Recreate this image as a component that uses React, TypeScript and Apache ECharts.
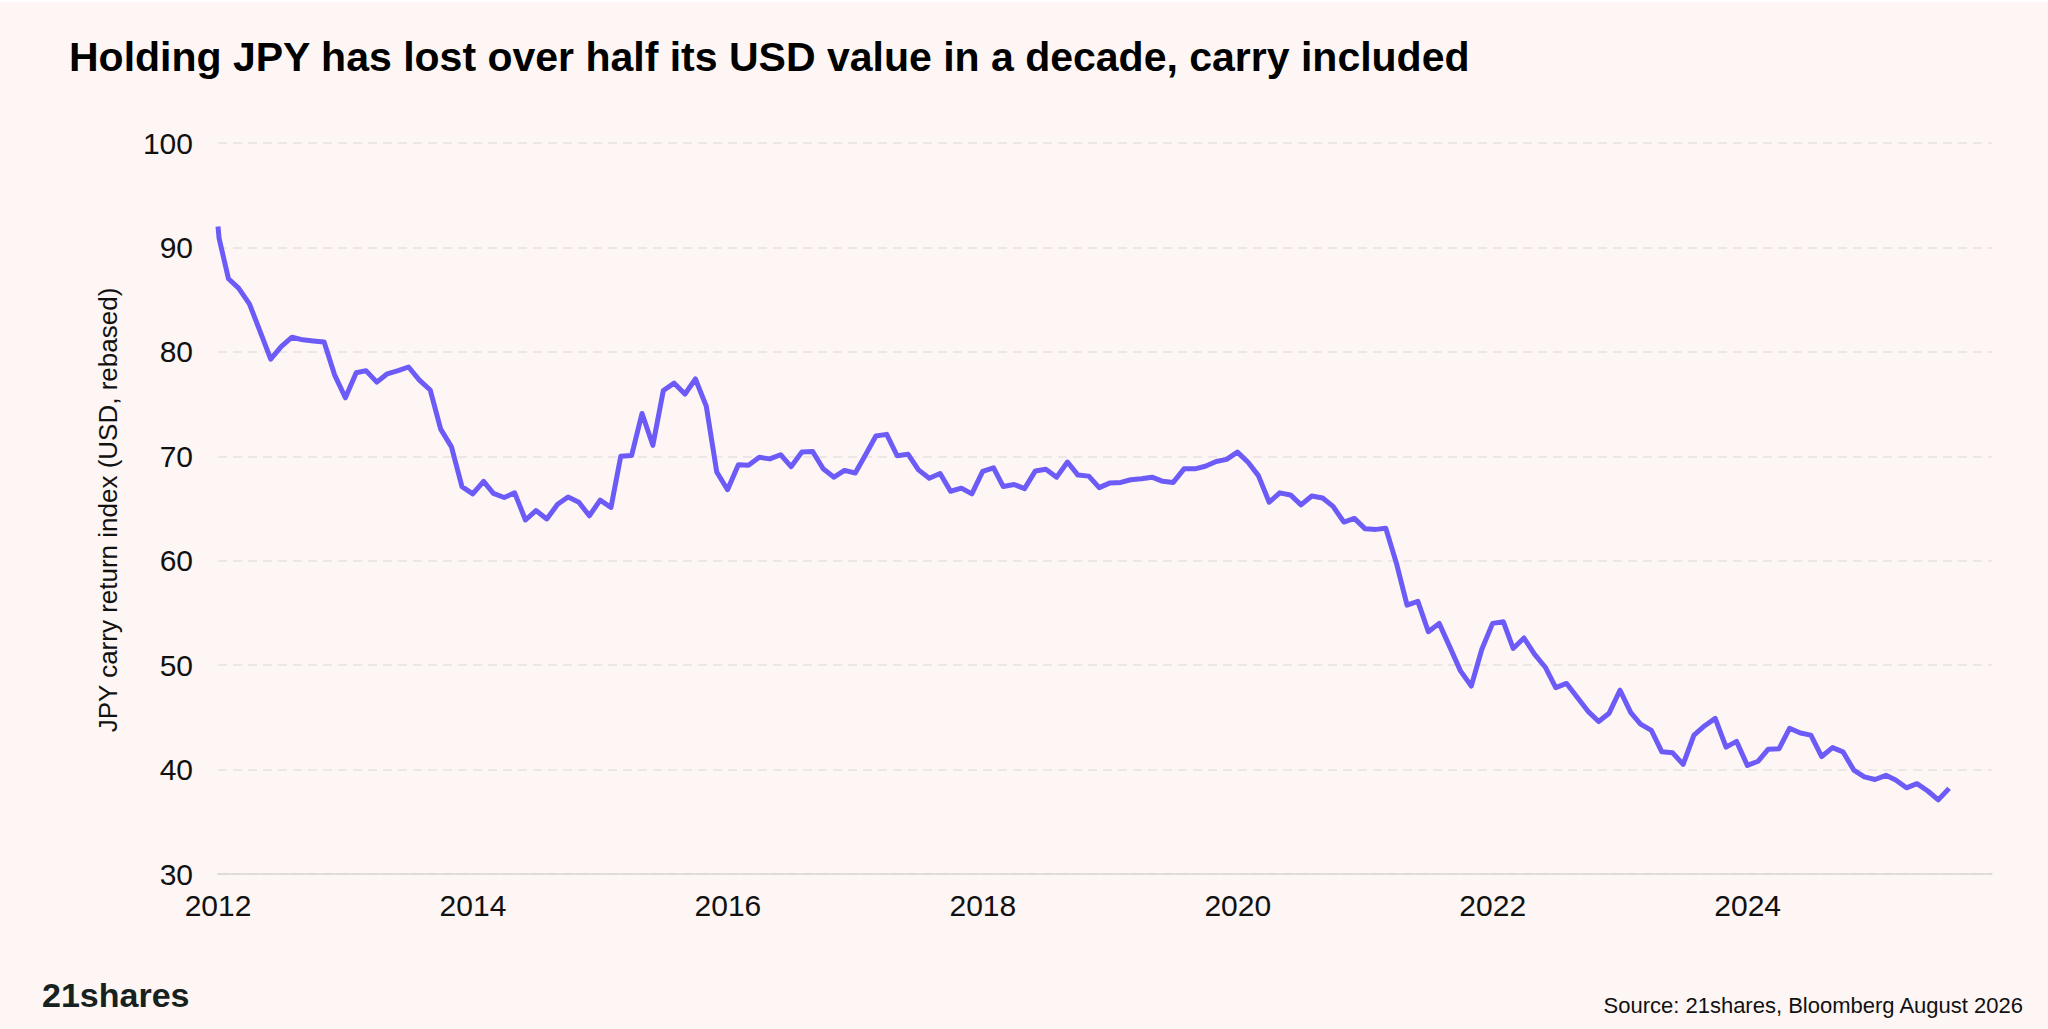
import { useEffect, useRef } from 'react';
import * as echarts from 'echarts';

const FONT = '"Liberation Sans", Arial, Helvetica, sans-serif';

// the index opens with two prints in the first days of January 2012
const startDates = ['2012-01-01', '2012-01-04'];
const startValues = [92.0, 90.9];

// month-end values, Jan 2012 .. Jul 2025
const firstMonth = { year: 2012, month: 0 };
const monthlyValues = [
  // 2012
  87.0, 86.1, 84.6, 82.0, 79.3, 80.5, 81.4, 81.15, 81.05, 80.95, 77.8, 75.6,
  // 2013
  78.0, 78.2, 77.1, 77.9, 78.2, 78.55, 77.3, 76.35, 72.6, 70.9, 67.1, 66.4,
  // 2014
  67.6, 66.45, 66.05, 66.5, 63.9, 64.8, 64.0, 65.4, 66.1, 65.6, 64.3, 65.8,
  // 2015
  65.1, 70.0, 70.07, 74.1, 71.05, 76.3, 77.0, 75.96, 77.4, 74.8, 68.5, 66.8,
  // 2016
  69.2, 69.15, 69.9, 69.75, 70.15, 69.0, 70.4, 70.45, 68.8, 68.0, 68.65, 68.4,
  // 2017
  70.25, 71.95, 72.1, 70.05, 70.2, 68.7, 67.9, 68.35, 66.65, 66.95, 66.4, 68.55,
  // 2018
  68.9, 67.1, 67.3, 66.9, 68.6, 68.75, 68.0, 69.45, 68.2, 68.1, 67.0, 67.45,
  // 2019
  67.5, 67.75, 67.85, 68.0, 67.6, 67.5, 68.8, 68.8, 69.05, 69.5, 69.7, 70.4,
  // 2020
  69.4, 68.15, 65.6, 66.5, 66.3, 65.35, 66.2, 66.0, 65.2, 63.7, 64.05, 63.05,
  // 2021
  63.0, 63.1, 59.7, 55.75, 56.1, 53.2, 54.0, 51.7, 49.45, 48.0, 51.5, 54.0,
  // 2022
  54.15, 51.6, 52.6, 51.05, 49.8, 47.85, 48.25, 46.9, 45.6, 44.6, 45.4, 47.6,
  // 2023
  45.45, 44.35, 43.75, 41.7, 41.6, 40.5, 43.3, 44.2, 44.9, 42.15, 42.7, 40.4,
  // 2024
  40.8, 41.95, 42.0, 43.95, 43.5, 43.3, 41.25, 42.1, 41.7, 39.95, 39.3, 39.05,
  // 2025
  39.45, 39.0, 38.25, 38.65, 37.95, 37.1, 38.2,
];

const xTickYears = [2012, 2014, 2016, 2018, 2020, 2022, 2024];
const xStart = '2012-01-01';
const xEnd = '2025-12-01';
const yTicks = [30, 40, 50, 60, 70, 80, 90, 100];

const DAY = 86400000;
const toTs = (s: string) => {
  const [y, m, d] = s.split('-').map(Number);
  return Date.UTC(y, m - 1, d);
};

function buildSeries(): [number, number][] {
  const pts: [number, number][] = startDates.map((d, i) => [toTs(d), startValues[i]]);
  monthlyValues.forEach((v, i) => {
    const m = firstMonth.month + i;
    // day 0 of next month = last day of this month
    pts.push([Date.UTC(firstMonth.year, m + 1, 0), v]);
  });
  return pts;
}

export default function App() {
  const chartRef = useRef<HTMLDivElement>(null);

  useEffect(() => {
    document.body.style.margin = '0';
    document.body.style.overflow = 'hidden';
    if (!chartRef.current) return;
    const chart = echarts.init(chartRef.current, undefined, { renderer: 'svg' });

    const yearSpan = 2 * 365.25 * DAY;

    chart.setOption({
      animation: false,
      backgroundColor: '#fdf6f4',
      textStyle: { fontFamily: FONT },
      grid: { left: 218, right: 56, top: 143, bottom: 155, containLabel: false },
      xAxis: {
        type: 'value',
        min: toTs(xStart),
        max: toTs(xEnd),
        interval: yearSpan,
        axisLine: { show: true, lineStyle: { color: '#d9d6d5', width: 1.5 } },
        axisTick: { show: false },
        splitLine: { show: false },
        axisLabel: {
          showMaxLabel: false,
          color: '#111111',
          fontSize: 30,
          fontFamily: FONT,
          margin: 16,
          formatter: (v: number) => {
            const y = new Date(v + 2 * DAY).getUTCFullYear();
            return xTickYears.includes(y) ? String(y) : '';
          },
        },
      },
      yAxis: {
        type: 'value',
        min: yTicks[0],
        max: yTicks[yTicks.length - 1],
        interval: yTicks[1] - yTicks[0],
        axisLine: { show: false },
        axisTick: { show: false },
        axisLabel: { color: '#111111', fontSize: 30, fontFamily: FONT, margin: 25 },
        splitLine: { lineStyle: { color: '#e6e1df', width: 1.5, type: [9, 6] } },
      },
      series: [
        {
          type: 'line',
          data: buildSeries(),
          showSymbol: false,
          lineStyle: { color: '#6d5bf7', width: 5, join: 'round' },
          itemStyle: { color: '#6d5bf7' },
        },
      ],
      graphic: [
        { type: 'rect', left: 0, top: 0, shape: { width: 2048, height: 2 }, style: { fill: '#ffffff' } },
        {
          type: 'text',
          x: 69,
          y: 57,
          style: {
            text: 'Holding JPY has lost over half its USD value in a decade, carry included',
            fontFamily: FONT,
            fontSize: 41,
            fontWeight: 'bold',
            fill: '#000000',
            align: 'left',
            verticalAlign: 'middle',
          },
        },
        {
          type: 'text',
          x: 108,
          y: 510,
          rotation: Math.PI / 2,
          style: {
            text: 'JPY carry return index (USD, rebased)',
            fontFamily: FONT,
            fontSize: 26,
            fill: '#111111',
            align: 'center',
            verticalAlign: 'middle',
          },
        },
        {
          type: 'text',
          x: 42,
          y: 995,
          style: {
            text: '21shares',
            fontFamily: FONT,
            fontSize: 34,
            fontWeight: 'bold',
            fill: '#17211d',
            align: 'left',
            verticalAlign: 'middle',
          },
        },
        {
          type: 'text',
          x: 2023,
          y: 1005,
          style: {
            text: 'Source: 21shares, Bloomberg August 2026',
            fontFamily: FONT,
            fontSize: 22,
            fill: '#111111',
            align: 'right',
            verticalAlign: 'middle',
          },
        },
      ],
    });

    return () => chart.dispose();
  }, []);

  return <div ref={chartRef} style={{ width: 2048, height: 1029 }} />;
}
